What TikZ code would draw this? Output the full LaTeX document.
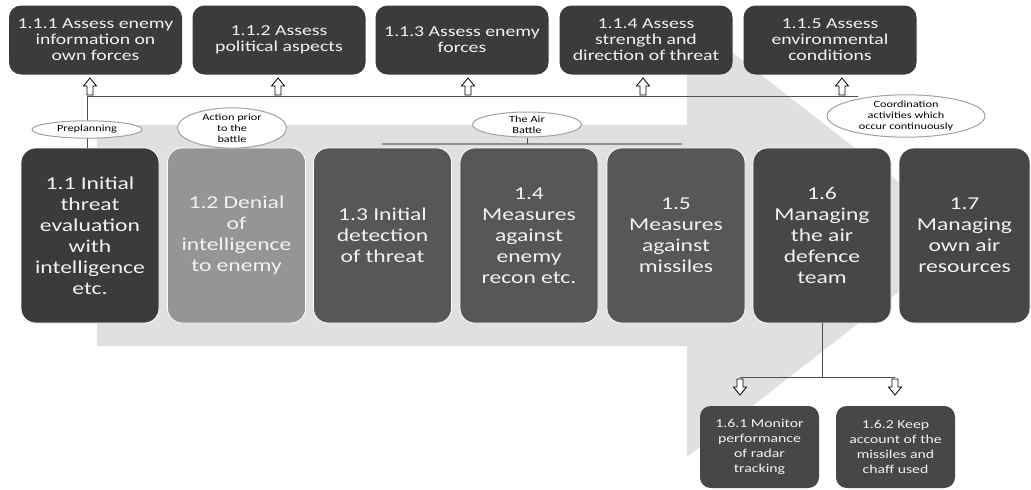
\documentclass[tikz,border=0pt]{standalone}
\usepackage{fontspec}
\setmainfont{Carlito}[FakeStretch=1.3]
\usetikzlibrary{shapes.geometric}

\definecolor{arrowgray}{HTML}{E0E0E0}
\definecolor{boxdark}{HTML}{3B3B3B}
\definecolor{boxmid}{HTML}{575757}
\definecolor{boxteam}{HTML}{474747}
\definecolor{boxlight}{HTML}{959595}
\definecolor{boxtext}{HTML}{F2F2F2}
\definecolor{ellgray}{HTML}{A0A0A0}
\definecolor{busgray}{HTML}{505050}
\definecolor{battlegray}{HTML}{909090}

\tikzset{every picture/.style={line width=0.75pt}}
\tikzset{
  topbox/.style={rounded corners=9pt, fill=boxdark, text=boxtext, align=center,
    minimum width=129.75pt, minimum height=51.75pt, inner sep=0pt,
    font=\fontsize{11.4}{12}\selectfont},
  mainbox/.style={rounded corners=11pt, draw=white, line width=0.6pt, text=boxtext,
    align=center, minimum width=103.5pt, minimum height=131.25pt, inner sep=0pt,
    font=\fontsize{13.6}{15.7}\selectfont},
  subbox/.style={rounded corners=8pt, fill=boxteam, text=boxtext, align=center,
    minimum width=89.25pt, minimum height=61.5pt, inner sep=0pt,
    font=\fontsize{9.1}{11.2}\selectfont},
  phase/.style={ellipse, draw=ellgray, fill=white, align=center, inner sep=0pt,
    font=\fontsize{7.1}{8.2}\selectfont},
  hollow/.style={draw=black, fill=white, line width=0.6pt, line join=miter},
  bus/.style={draw=busgray, line width=0.6pt}
}

\begin{document}
\begin{tikzpicture}[x=0.75pt,y=0.75pt,yscale=-1,xscale=1]
\useasboundingbox (0,0) rectangle (1031,489);

%Shape: big background arrow
\fill[arrowgray] (97,125) -- (687,125) -- (687,17) -- (969,237) -- (687,457) -- (687,346) -- (97,346) -- cycle;

% Top boxes
\node[topbox] (t111) at (95.5,40) {1.1.1 Assess enemy\\information on\\own forces};
\node[topbox] (t112) at (279,40) {1.1.2 Assess\\political aspects};
\node[topbox] (t113) at (462,40) {1.1.3 Assess enemy\\forces};
\node[topbox] (t114) at (646,40) {1.1.4 Assess\\strength and\\direction of threat};
\node[topbox] (t115) at (830,40) {1.1.5 Assess\\environmental\\conditions};

% Main boxes
\node[mainbox, fill=boxdark] (b11) at (90,235.5) {1.1 Initial\\threat\\evaluation\\with\\intelligence\\etc.};
\node[mainbox, fill=boxlight, text=boxtext!92!white] (b12) at (236.5,235.5) {1.2 Denial\\of\\intelligence\\to enemy};
\node[mainbox, fill=boxmid] (b13) at (382.5,235.5) {1.3 Initial\\detection\\of threat};
\node[mainbox, fill=boxmid] (b14) at (529,235.5) {1.4\\Measures\\against\\enemy\\recon etc.};
\node[mainbox, fill=boxmid] (b15) at (676,235.5) {1.5\\Measures\\against\\missiles};
\node[mainbox, fill=boxteam] (b16) at (822,235.5) {1.6\\Managing\\the air\\defence\\team};
\node[mainbox, fill=boxteam, minimum width=98.25pt] (b17) at (964.5,235.5) {1.7\\Managing\\own air\\resources};

%Straight Lines: bus to the top boxes
\coordinate (busL) at (87,96);
\coordinate (busR) at (858,96);
\draw[bus] (b11.north -| busL) -- (busL) -- (busR);

% hollow up arrows
\foreach \ax in {90,278,468,643,842}
  \draw[hollow] (\ax,95) -- ++(-3,0) -- ++(0,-9) -- ++(-3.5,0) -- ++(6.5,-8) -- ++(6.5,8) -- ++(-3.5,0) -- ++(0,9) -- cycle;

% Phase ellipses
\node[phase, minimum width=82.5pt, minimum height=13pt] (pre) at (87,129.5) {Preplanning};
\node[phase, minimum width=81.75pt, minimum height=30pt] (prior) at (232,128) {Action prior\\to the\\battle};
\node[phase, minimum width=81.75pt, minimum height=18.75pt] (air) at (527,124.5) {The Air\\Battle};
\node[phase, minimum width=118.5pt, minimum height=28.5pt] (coord) at (906,116) {Coordination\\activities which\\occur continuously};

%Straight Lines: the air battle bracket
\coordinate (airL) at (382,144);
\coordinate (airR) at (682,144);
\draw[draw=battlegray, line width=1.5pt] (airL) -- (airR);
\draw[draw=busgray, line width=0.6pt] (air.south) -- (air.south |- airL);

%Straight Lines: 1.6 sub tree
\coordinate (teamL) at (740,377);
\coordinate (teamR) at (895,377);
\draw[bus] (b16.south) -- (b16.south |- teamL);
\draw[bus] (teamL) -- (teamR);
\foreach \ax in {740,895}
  \draw[hollow] (\ax,379) -- ++(-3,0) -- ++(0,8) -- ++(-3.5,0) -- ++(6.5,8) -- ++(6.5,-8) -- ++(-3.5,0) -- ++(0,-8) -- cycle;

% Bottom boxes
\node[subbox] (s161) at (759.5,447) {1.6.1 Monitor\\performance\\of radar\\tracking};
\node[subbox] (s162) at (895.5,447) {1.6.2 Keep\\account of the\\missiles and\\chaff used};

\end{tikzpicture}
\end{document}
